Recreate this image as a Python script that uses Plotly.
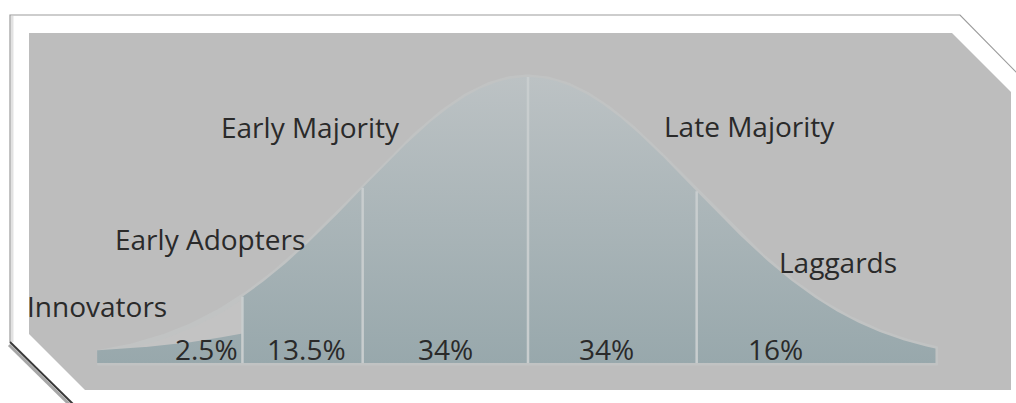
import numpy as np
import plotly.graph_objects as go

# ---------------- data ----------------
segments = ["Innovators", "Early Adopters", "Early Majority", "Late Majority", "Laggards"]
shares = ["2.5%", "13.5%", "34%", "34%", "16%"]
# segment boundaries along the bell, in standard deviations from the mean
boundaries = [-2.58, -1.71, -0.99, 0.0, 1.01, 2.44]
# innovators band is drawn lower than the bell
innov_scale = 0.30
innov_offset = 0.034

# ---------------- geometry helpers ----------------
W, H = 1016, 403
MEAN_PX, SIGMA_PX = 528, 167
BASE_PX, PEAK_PX = 363, 286


def bell(z):
    return np.exp(-0.5 * np.asarray(z) ** 2)


def dx(px):
    return (px - MEAN_PX) / SIGMA_PX


def dy(py):
    return (BASE_PX - py) / PEAK_PX


def pp(x, y):
    return f"{x / W:.5f},{1 - y / H:.5f}"


def path(points, close=False):
    s = "M " + " L ".join(pp(x, y) for x, y in points)
    return s + (" Z" if close else "")


BOTTOM_C = "#98a8ac"
TOP_C = "#bcc2c4"
grad = dict(type="vertical", colorscale=[[0, BOTTOM_C], [1, TOP_C]], start=0, stop=1)

fig = go.Figure()

# faint full bell behind segments
zf = np.linspace(boundaries[0], boundaries[-1], 300)
fig.add_trace(go.Scatter(
    x=np.concatenate([zf, zf[::-1]]),
    y=np.concatenate([bell(zf), np.zeros_like(zf)]),
    fill="toself", fillcolor="#c3c3c3", mode="lines",
    line=dict(color="#c1c3c3", width=5), hoverinfo="skip", showlegend=False))

# segments
for i, name in enumerate(segments):
    lo, hi = boundaries[i], boundaries[i + 1]
    z = np.linspace(lo, hi, 120)
    top = bell(z)
    if i == 0:
        top = innov_scale * top + innov_offset
    fig.add_trace(go.Scatter(
        x=np.concatenate([[lo], z, [hi]]),
        y=np.concatenate([[0], top, [0]]),
        fill="toself", fillgradient=grad, mode="lines",
        line=dict(width=0, color=BOTTOM_C), name=name,
        hoverinfo="skip", showlegend=False))

# dividers between segments
for b in boundaries[1:-1]:
    fig.add_trace(go.Scatter(
        x=[b, b], y=[0, float(bell(b))], mode="lines",
        line=dict(color="#c8cdce", width=2.5), hoverinfo="skip", showlegend=False))

# ---------------- decorations (panel + frame) ----------------
shapes = [
    dict(type="path", xref="paper", yref="paper", layer="below",
         path=path([(29, 33), (952, 33), (1011, 92), (1011, 390), (85, 390), (29, 334)], close=True),
         fillcolor="#bdbdbd", line=dict(width=0)),
    dict(type="path", xref="paper", yref="paper", layer="above",
         path=path([(12, 342), (12, 16)]),
         line=dict(color="#e2e2e2", width=3)),
    dict(type="path", xref="paper", yref="paper", layer="above",
         path=path([(10, 342), (10, 15), (960, 15), (1017, 73)]),
         line=dict(color="#9c9c9c", width=1.2)),
    dict(type="path", xref="paper", yref="paper", layer="above",
         path=path([(9, 345), (70, 405)]),
         line=dict(color="#a6a6a6", width=3)),
    dict(type="path", xref="paper", yref="paper", layer="above",
         path=path([(10, 342), (73, 404)]),
         line=dict(color="#383838", width=2)),
]

# ---------------- labels ----------------
FONT = "Open Sans"
TXT = "#2a2a2a"
FS = 28
annotations = []
cat_pos = [(97, 306), (210, 239), (310, 127), (749, 126), (838, 262)]
for name, (x, y) in zip(segments, cat_pos):
    annotations.append(dict(x=dx(x), y=dy(y), xref="x", yref="y", text=name, showarrow=False,
                            xanchor="center", yanchor="middle",
                            font=dict(family=FONT, size=FS, color=TXT)))
pct_pos = [206, 306, 445, 606, 775]
for s, x in zip(shares, pct_pos):
    annotations.append(dict(x=dx(x), y=dy(349), xref="x", yref="y", text=s, showarrow=False,
                            xanchor="center", yanchor="middle",
                            font=dict(family=FONT, size=FS, color=TXT)))

fig.update_layout(
    width=W, height=H, margin=dict(l=0, r=0, t=0, b=0),
    paper_bgcolor="white", plot_bgcolor="rgba(0,0,0,0)",
    xaxis=dict(range=[dx(0), dx(W)], visible=False, fixedrange=True),
    yaxis=dict(range=[dy(H), dy(0)], visible=False, fixedrange=True),
    shapes=shapes, annotations=annotations, showlegend=False,
)

fig.write_html("out.html", config={"displayModeBar": False},
               post_script="document.body.style.margin='0';document.body.style.overflow='hidden';")
